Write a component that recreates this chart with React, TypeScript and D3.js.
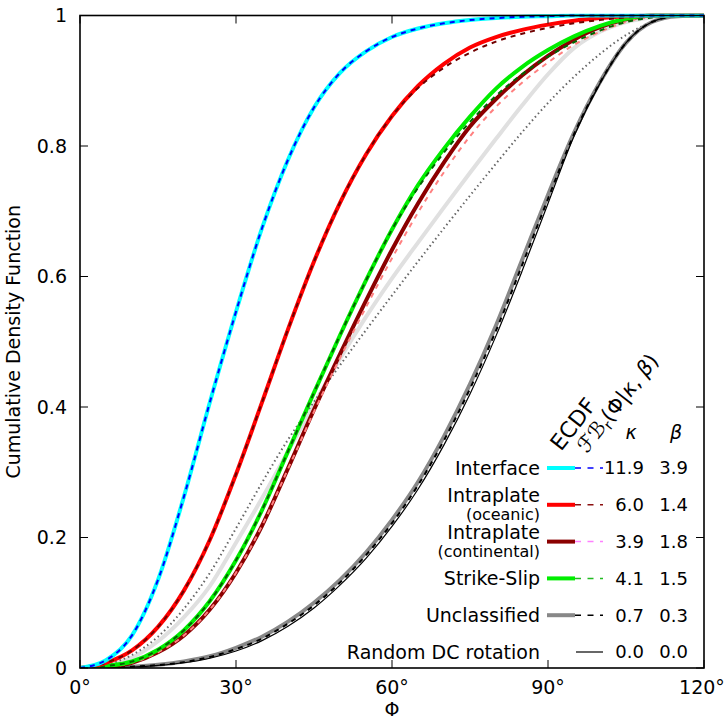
import React from 'react';
import * as d3 from 'd3';

// ---------- data ----------
const xTickValues = [0, 30, 60, 90, 120];
const xTickLabels = ['0°', '30°', '60°', '90°', '120°'];
const yTickValues = [0, 0.2, 0.4, 0.6, 0.8, 1];
const yTickLabels = ['0', '0.2', '0.4', '0.6', '0.8', '1'];

// rotation angle Φ (degrees) at which the curves were read
const phi = [0, 5, 10, 15, 20, 25, 30, 35, 40, 45, 50, 55, 60, 65, 70, 75, 80, 85, 90, 95, 100, 105, 110, 115, 120];

// Interface
const cdfInterface = [0, 0.012, 0.05, 0.135, 0.263, 0.408, 0.546, 0.674, 0.779, 0.859, 0.912, 0.945, 0.967, 0.98, 0.988, 0.993, 0.996, 0.998, 0.999, 1, 1, 1, 1, 1, 1];
const fitInterface = [0, 0.012, 0.05, 0.135, 0.263, 0.408, 0.546, 0.674, 0.779, 0.859, 0.912, 0.945, 0.967, 0.98, 0.988, 0.993, 0.996, 0.998, 0.999, 1, 1, 1, 1, 1, 1];

// Intraplate (oceanic)
const cdfOceanic = [0, 0.008, 0.027, 0.063, 0.119, 0.197, 0.297, 0.407, 0.519, 0.623, 0.713, 0.787, 0.846, 0.892, 0.926, 0.951, 0.967, 0.978, 0.986, 0.992, 0.996, 0.999, 1, 1, 1];
const fitOceanic = [0, 0.008, 0.027, 0.063, 0.119, 0.197, 0.297, 0.407, 0.519, 0.623, 0.713, 0.787, 0.846, 0.889, 0.92, 0.943, 0.96, 0.972, 0.981, 0.988, 0.993, 0.997, 0.999, 1, 1];

// Intraplate (continental)
const cdfContinental = [0, 0.002, 0.008, 0.024, 0.05, 0.09, 0.146, 0.218, 0.306, 0.396, 0.481, 0.563, 0.641, 0.712, 0.775, 0.83, 0.872, 0.908, 0.938, 0.963, 0.982, 0.994, 1, 1, 1];
const fitContinental = [0, 0.002, 0.008, 0.024, 0.05, 0.09, 0.146, 0.218, 0.305, 0.393, 0.475, 0.553, 0.628, 0.698, 0.76, 0.815, 0.86, 0.897, 0.928, 0.955, 0.975, 0.99, 0.998, 1, 1];

// Strike-Slip
const cdfStrike = [0, 0.003, 0.01, 0.028, 0.058, 0.103, 0.165, 0.242, 0.332, 0.422, 0.51, 0.594, 0.672, 0.74, 0.796, 0.845, 0.888, 0.921, 0.947, 0.968, 0.984, 0.995, 1, 1, 1];
const fitStrike = [0, 0.003, 0.01, 0.028, 0.058, 0.103, 0.165, 0.242, 0.332, 0.422, 0.51, 0.594, 0.672, 0.736, 0.79, 0.837, 0.877, 0.91, 0.937, 0.959, 0.977, 0.99, 0.997, 1, 1];

// Unclassified
const cdfUnclassified = [0, 0.0003, 0.002, 0.005, 0.01, 0.018, 0.031, 0.048, 0.071, 0.1, 0.135, 0.177, 0.227, 0.285, 0.355, 0.435, 0.525, 0.625, 0.725, 0.82, 0.898, 0.958, 0.99, 0.999, 1];
const fitUnclassified = [0, 0.0003, 0.002, 0.0045, 0.009, 0.017, 0.029, 0.045, 0.068, 0.096, 0.131, 0.173, 0.222, 0.28, 0.349, 0.428, 0.517, 0.617, 0.719, 0.818, 0.897, 0.958, 0.99, 0.999, 1];

// Random DC rotation
const cdfRandom = [0, 0.0002, 0.0015, 0.004, 0.008, 0.015, 0.026, 0.042, 0.064, 0.092, 0.127, 0.168, 0.217, 0.274, 0.342, 0.42, 0.509, 0.608, 0.712, 0.815, 0.896, 0.958, 0.99, 0.999, 1];

// unlabeled background curves (light grey ECDF and dotted fit)
const cdfAll = [0, 0.004, 0.016, 0.041, 0.078, 0.126, 0.192, 0.26, 0.332, 0.404, 0.474, 0.538, 0.597, 0.652, 0.706, 0.759, 0.811, 0.862, 0.91, 0.95, 0.975, 0.99, 0.997, 1, 1];
const fitAll = [0, 0.005, 0.02, 0.048, 0.091, 0.146, 0.214, 0.284, 0.35, 0.408, 0.464, 0.518, 0.571, 0.623, 0.674, 0.724, 0.773, 0.821, 0.866, 0.906, 0.941, 0.97, 0.99, 1, 1];

// legend
const legendNames = ['Interface', 'Intraplate', 'Intraplate', 'Strike-Slip', 'Unclassified', 'Random DC rotation'];
const legendSubs = ['', '(oceanic)', '(continental)', '', '', ''];
const legendKappa = ['11.9', '6.0', '3.9', '4.1', '0.7', '0.0'];
const legendBeta = ['3.9', '1.4', '1.8', '1.5', '0.3', '0.0'];

// ---------- chart ----------
const W = 725;
const H = 719;
const FONT = '"DejaVu Sans", sans-serif';

const x = d3.scaleLinear().domain([0, 120]).range([80, 704]);
const y = d3.scaleLinear().domain([0, 1]).range([668, 15.5]);

const zip = (a: number[], b: number[]) => a.map((v, i) => [v, b[i]] as [number, number]);
const line = d3
  .line<[number, number]>()
  .x((d) => x(d[0]))
  .y((d) => y(d[1]))
  .curve(d3.curveMonotoneX);

type S = { d: [number, number][]; stroke: string; w: number; dash?: string };

const series: S[] = [
  { d: zip(phi, cdfAll), stroke: '#e0e0e0', w: 4 },
  { d: zip(phi, fitAll), stroke: '#666666', w: 2, dash: '1.5,3' },
  { d: zip(phi, cdfUnclassified), stroke: '#888888', w: 4 },
  { d: zip(phi, cdfRandom), stroke: '#000000', w: 1.2 },
  { d: zip(phi, fitUnclassified), stroke: '#000000', w: 2, dash: '5,5' },
  { d: zip(phi, cdfContinental), stroke: '#8b0000', w: 4 },
  { d: zip(phi, fitContinental), stroke: '#ff8080', w: 2, dash: '5,5' },
  { d: zip(phi, cdfStrike), stroke: '#00ee00', w: 4 },
  { d: zip(phi, fitStrike), stroke: '#006400', w: 2, dash: '5,5' },
  { d: zip(phi, cdfOceanic), stroke: '#ff0000', w: 4 },
  { d: zip(phi, fitOceanic), stroke: '#700000', w: 2, dash: '5,5' },
  { d: zip(phi, cdfInterface), stroke: '#00ffff', w: 4 },
  { d: zip(phi, fitInterface), stroke: '#0000ff', w: 2, dash: '5,5' },
];

const legendSolid = ['#00ffff', '#ff0000', '#8b0000', '#00ee00', '#888888', ''];
const legendDash = ['#0000ff', '#8b1010', '#ff80ff', '#22bb22', '#000000', ''];

export default function App() {
  const x0 = x(0), x1 = x(120), y0 = y(0), y1 = y(1);
  const tl = 8;
  const rowY = (i: number) => 468 + i * 36.8;
  return (
    <svg
      width={W}
      height={H}
      style={{ position: 'absolute', left: 0, top: 0, background: '#fff' }}
      fontFamily={FONT}
    >
      <rect x={0} y={0} width={W} height={H} fill="#fff" />
      <defs>
        <clipPath id="plot">
          <rect x={x0} y={y1 - 2} width={x1 - x0} height={y0 - y1 + 2} />
        </clipPath>
      </defs>
      <g clipPath="url(#plot)">
        {series.map((s, i) => (
          <path
            key={i}
            d={line(s.d) || ''}
            fill="none"
            stroke={s.stroke}
            strokeWidth={s.w}
            strokeDasharray={s.dash}
            strokeLinejoin="round"
          />
        ))}
      </g>

      {/* ticks */}
      {xTickValues.map((v, i) => (
        <g key={'xt' + i}>
          <line x1={x(v)} x2={x(v)} y1={y0} y2={y0 - tl} stroke="#000" strokeWidth={1} />
          <line x1={x(v)} x2={x(v)} y1={y1} y2={y1 + tl} stroke="#000" strokeWidth={1} />
          <text x={x(v) - (i === xTickValues.length - 1 ? 2 : 0)} y={694} fontSize={19} textAnchor="middle">
            {xTickLabels[i]}
          </text>
        </g>
      ))}
      {yTickValues.map((v, i) => (
        <g key={'yt' + i}>
          <line x1={x0} x2={x0 + tl} y1={y(v)} y2={y(v)} stroke="#000" strokeWidth={1} />
          <line x1={x1} x2={x1 - tl} y1={y(v)} y2={y(v)} stroke="#000" strokeWidth={1} />
          <text x={67} y={y(v)} dy="0.36em" fontSize={19} textAnchor="end">
            {yTickLabels[i]}
          </text>
        </g>
      ))}

      {/* border */}
      <rect x={x0} y={y1} width={x1 - x0} height={y0 - y1} fill="none" stroke="#000" strokeWidth={1.6} />

      {/* axis titles */}
      <text x={x(60)} y={716} fontSize={19} textAnchor="middle">Φ</text>
      <text
        transform={`translate(20, ${(y0 + y1) / 2}) rotate(-90)`}
        fontSize={19}
        textAnchor="middle"
      >
        Cumulative Density Function
      </text>

      {/* legend header */}
      <text transform="translate(561, 452) rotate(-52)" fontSize={22}>ECDF</text>
      <text transform="translate(587, 454) rotate(-52)" fontSize={21}>
        ℱℬ<tspan fontSize={14} dy={4}>r</tspan>
        <tspan dy={-4}>(Φ|</tspan>
        <tspan fontStyle="italic">κ</tspan>
        <tspan>, </tspan>
        <tspan fontStyle="italic">β</tspan>
        <tspan>)</tspan>
      </text>
      <text x={631} y={432} dy="0.36em" fontSize={19} fontStyle="italic" textAnchor="middle">κ</text>
      <text x={676} y={432} dy="0.36em" fontSize={19} fontStyle="italic" textAnchor="middle">β</text>

      {/* legend rows */}
      {legendNames.map((n, i) => {
        const ry = rowY(i);
        const sub = legendSubs[i];
        return (
          <g key={'lg' + i}>
            {sub ? (
              <>
                <text x={540} y={ry - 9.5} dy="0.36em" fontSize={19} textAnchor="end">{n}</text>
                <text x={540} y={ry + 9.5} dy="0.36em" fontSize={16} textAnchor="end">{sub}</text>
              </>
            ) : (
              <text x={540} y={ry} dy="0.36em" fontSize={19} textAnchor="end">{n}</text>
            )}
            {legendSolid[i] ? (
              <>
                <line x1={547} x2={575} y1={ry} y2={ry} stroke={legendSolid[i]} strokeWidth={4} />
                <line x1={575} x2={603} y1={ry} y2={ry} stroke={legendDash[i]} strokeWidth={1.5} strokeDasharray="6,6.5" />
              </>
            ) : (
              <line x1={576} x2={603} y1={ry} y2={ry} stroke="#000" strokeWidth={1.2} />
            )}
            <text x={644} y={ry} dy="0.36em" fontSize={18} textAnchor="end">{legendKappa[i]}</text>
            <text x={688} y={ry} dy="0.36em" fontSize={18} textAnchor="end">{legendBeta[i]}</text>
          </g>
        );
      })}
    </svg>
  );
}
